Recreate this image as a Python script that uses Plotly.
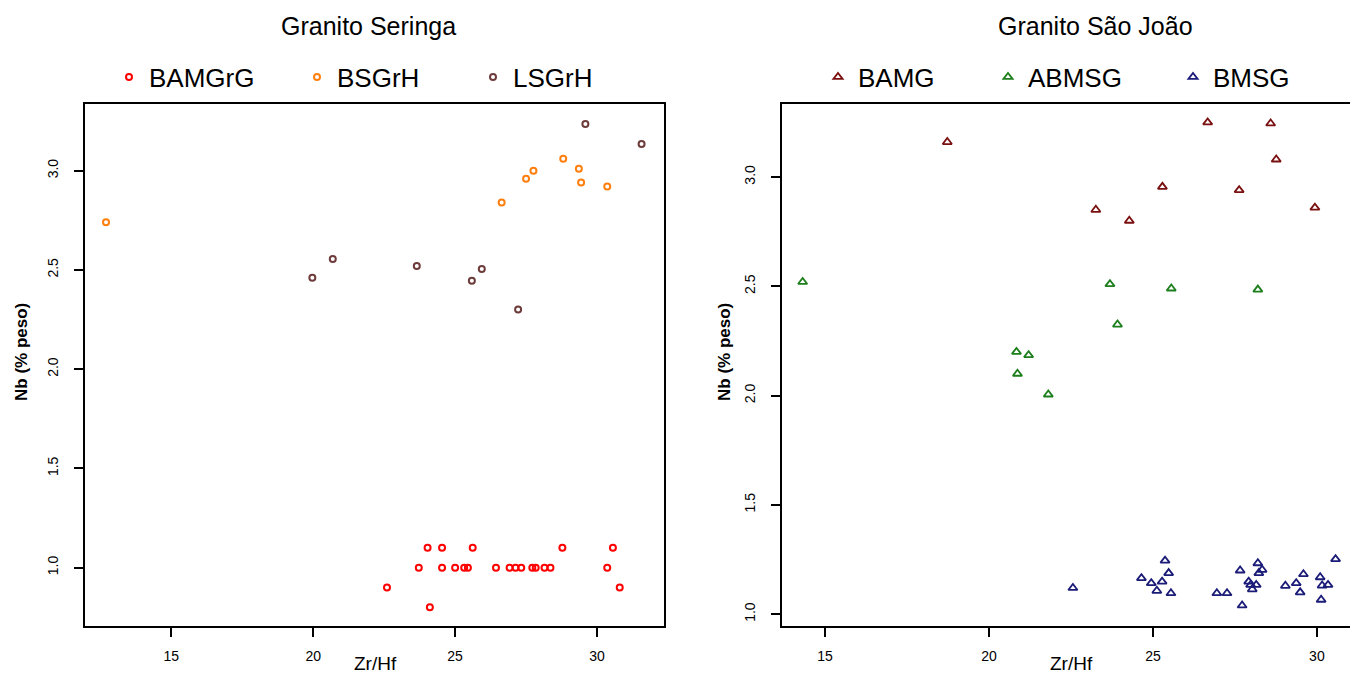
import plotly.graph_objects as go

W, H = 1350, 673

# ---------------- data: Granito Seringa ----------------
bamgrg_zr = [22.60, 23.72, 24.03, 24.11, 24.54, 24.54, 25.00, 25.32, 25.45, 25.62, 26.44,
             26.92, 27.13, 27.33, 27.72, 27.84, 28.15, 28.36, 28.78, 30.36, 30.56, 30.80]
bamgrg_nb = [0.90, 1.00, 1.10, 0.80, 1.10, 1.00, 1.00, 1.00, 1.00, 1.10, 1.00,
             1.00, 1.00, 1.00, 1.00, 1.00, 1.00, 1.00, 1.10, 1.00, 1.10, 0.90]

bsgrh_zr = [12.70, 26.64, 27.50, 27.76, 28.81, 29.36, 29.44, 30.36]
bsgrh_nb = [2.74, 2.84, 2.96, 3.00, 3.06, 3.01, 2.94, 2.92]

lsgrh_zr = [19.97, 20.69, 23.65, 25.59, 25.94, 27.22, 29.59, 31.57]
lsgrh_nb = [2.46, 2.555, 2.52, 2.445, 2.505, 2.30, 3.235, 3.135]

# ---------------- data: Granito São João ----------------
bamg_zr = [18.73, 23.26, 24.28, 25.29, 26.67, 27.63, 28.59, 28.76, 29.94]
bamg_nb = [3.16, 2.85, 2.80, 2.955, 3.25, 2.94, 3.245, 3.08, 2.86]

abmsg_zr = [14.32, 23.69, 25.56, 28.20, 23.92, 20.84, 21.21, 20.87, 21.81]
abmsg_nb = [2.52, 2.51, 2.49, 2.485, 2.325, 2.20, 2.185, 2.10, 2.005]

bmsg_zr = [22.56, 25.37, 24.65, 24.95, 25.28, 25.48, 25.12, 25.55, 26.95, 27.26, 27.66,
           27.72, 27.92, 27.98, 28.03, 28.15, 28.20, 28.23, 28.33, 29.04, 29.37, 29.59,
           29.49, 30.10, 30.13, 30.16, 30.34, 30.57]
bmsg_nb = [1.12, 1.245, 1.165, 1.142, 1.149, 1.188, 1.107, 1.096, 1.096, 1.096, 1.20,
           1.04, 1.149, 1.134, 1.114, 1.134, 1.233, 1.188, 1.203, 1.13, 1.142, 1.183,
           1.10, 1.169, 1.066, 1.131, 1.134, 1.252]

x_ticks = [15, 20, 25, 30]
y_ticks = [1.0, 1.5, 2.0, 2.5, 3.0]
titles = ["Granito Seringa", "Granito São João"]
x_title = "Zr/Hf"
y_title = "Nb (% peso)"

FONT = "Liberation Sans, Arial, sans-serif"


def px(x):
    return x / W


def py(y):
    return 1 - y / H


fig = go.Figure()

left_series = [
    ("BAMGrG", bamgrg_zr, bamgrg_nb, "#FF0000", 134),
    ("BSGrH", bsgrh_zr, bsgrh_nb, "#FF7F0E", 322),
    ("LSGrH", lsgrh_zr, lsgrh_nb, "#6E3B3B", 498),
]
right_series = [
    ("BAMG", bamg_zr, bamg_nb, "#7A1010", 843),
    ("ABMSG", abmsg_zr, abmsg_nb, "#1C7F1C", 1013),
    ("BMSG", bmsg_zr, bmsg_nb, "#1B1B78", 1198),
]

legend_layouts = {}
k = 1
for name, xs, ys, col, lx in left_series:
    lname = "legend" if k == 1 else f"legend{k}"
    fig.add_trace(go.Scatter(
        x=xs, y=ys, mode="markers", name=name, legend=lname,
        xaxis="x", yaxis="y",
        marker=dict(symbol="circle-open", size=6, color=col, line=dict(width=2, color=col)),
    ))
    legend_layouts[lname] = dict(x=px(lx - 25), y=py(77), xanchor="left", yanchor="middle",
                                 orientation="h", bgcolor="rgba(0,0,0,0)",
                                 font=dict(family=FONT, size=26, color="#000"))
    k += 1
for name, xs, ys, col, lx in right_series:
    lname = f"legend{k}"
    fig.add_trace(go.Scatter(
        x=xs, y=ys, mode="markers", name=name, legend=lname,
        xaxis="x2", yaxis="y2",
        marker=dict(symbol="triangle-up-open", size=8, color=col, line=dict(width=1.8, color=col)),
    ))
    legend_layouts[lname] = dict(x=px(lx - 25), y=py(77), xanchor="left", yanchor="middle",
                                 orientation="h", bgcolor="rgba(0,0,0,0)",
                                 font=dict(family=FONT, size=26, color="#000"))
    k += 1

axis_common = dict(
    showline=True, linewidth=2, linecolor="#000",
    ticks="outside", ticklen=9, tickwidth=1.5, tickcolor="#000",
    showgrid=False, zeroline=False,
    tickfont=dict(family=FONT, size=14, color="#000"),
)

dom_y = [py(626), py(104)]

fig.update_layout(
    width=W, height=H,
    margin=dict(l=0, r=0, t=0, b=0),
    paper_bgcolor="white", plot_bgcolor="white",
    showlegend=True,
    xaxis=dict(domain=[px(85), px(664)], range=[11.96, 32.36], tickvals=x_ticks,
               mirror=True, anchor="y", ticklabelstandoff=7, automargin=False, **axis_common),
    yaxis=dict(domain=dom_y, range=[0.706, 3.336], tickvals=y_ticks, tickformat=".1f",
               tickangle=-90, mirror=True, anchor="x", ticklabelstandoff=10,
               automargin=False, **axis_common),
    xaxis2=dict(domain=[px(782), 1.0], range=[13.69, 31.01], tickvals=x_ticks,
                mirror=True, anchor="y2", ticklabelstandoff=7, automargin=False, **axis_common),
    yaxis2=dict(domain=dom_y, range=[0.946, 3.334], tickvals=y_ticks, tickformat=".1f",
                tickangle=-90, mirror=False, anchor="x2", ticklabelstandoff=10,
                automargin=False, **axis_common),
    **legend_layouts,
)

ann = []
ann.append(dict(text=titles[0], x=px(368), y=py(26), xref="paper", yref="paper",
                showarrow=False, xanchor="center", yanchor="middle",
                font=dict(family=FONT, size=25, color="#000")))
ann.append(dict(text=titles[1], x=px(1095), y=py(26), xref="paper", yref="paper",
                showarrow=False, xanchor="center", yanchor="middle",
                font=dict(family=FONT, size=25, color="#000")))
for cx in (375, 1071):
    ann.append(dict(text=x_title, x=px(cx), y=py(651), xref="paper", yref="paper",
                    showarrow=False, xanchor="center", yanchor="top",
                    font=dict(family=FONT, size=19, color="#000")))
for cx in (21, 724):
    ann.append(dict(text="<b>" + y_title + "</b>", x=px(cx), y=py(352), xref="paper", yref="paper",
                    showarrow=False, xanchor="center", yanchor="middle", textangle=-90,
                    font=dict(family=FONT, size=17, color="#000")))
fig.update_layout(annotations=ann)

fig.write_html("out.html")
